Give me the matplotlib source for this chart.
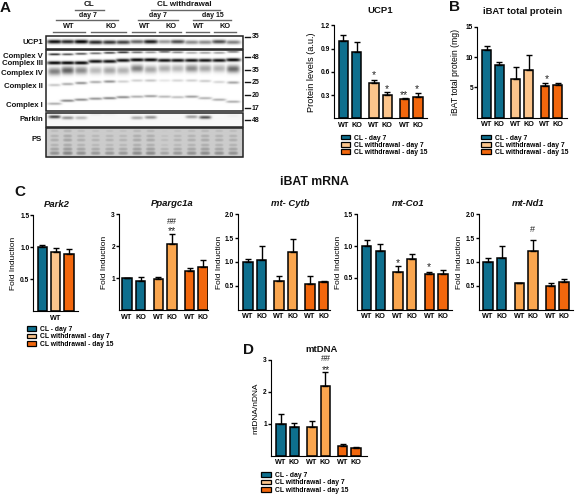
import numpy as np
import matplotlib
matplotlib.use('Agg')
import matplotlib.pyplot as plt
from matplotlib.patches import Patch, Rectangle

plt.rcParams['font.family'] = ['Liberation Sans', 'DejaVu Sans']
plt.rcParams['font.weight'] = 'bold'

W, H = 576, 494
TEAL = '#0e6f8e'
PALE = '#fcc58c'
MID = '#faa64f'
DARK = '#f2670d'

wt_ko = ['WT', 'KO', 'WT', 'KO', 'WT', 'KO']
legend_labels = ['CL - day 7', 'CL withdrawal - day 7', 'CL withdrawal - day 15']

# bar values and top of the error bars
ucp1_vals = [1.00, 0.85, 0.45, 0.30, 0.25, 0.28]
ucp1_tops = [1.08, 0.98, 0.50, 0.345, 0.265, 0.33]
total_vals = [11.1, 8.7, 6.4, 7.9, 5.2, 5.4]
total_tops = [11.8, 9.1, 8.3, 10.4, 5.8, 5.8]
park2_vals = [1.00, 0.93, 0.89]
park2_tops = [1.04, 0.98, 0.97]
pgc_vals = [1.00, 0.92, 0.98, 2.08, 1.22, 1.34]
pgc_tops = [1.01, 1.03, 1.03, 2.38, 1.32, 1.57]
cytb_vals = [1.00, 1.04, 0.61, 1.22, 0.54, 0.58]
cytb_tops = [1.07, 1.34, 0.70, 1.49, 0.71, 0.60]
co1_vals = [1.00, 0.93, 0.60, 0.80, 0.56, 0.56]
co1_tops = [1.09, 1.03, 0.69, 0.87, 0.60, 0.62]
nd1_vals = [1.00, 1.08, 0.55, 1.23, 0.50, 0.59]
nd1_tops = [1.08, 1.34, 0.57, 1.47, 0.57, 0.64]
mtdna_vals = [1.00, 0.90, 0.90, 2.20, 0.30, 0.23]
mtdna_tops = [1.30, 1.03, 1.10, 2.63, 0.38, 0.27]

# blot lanes: band darkness per lane, 0 is nothing and 1 is black
lanes_x = [54.5, 67.5, 81, 95.5, 109.5, 123, 137, 150.5, 164.5, 177.5, 191.5, 205, 219, 233]
ucp1_band = [.95, .85, 1.0, .85, .8, .75, .6, .9, .4, .7, .45, .45, .7, .5]
ucp1_y = [42.5, 42.5, 42.5, 43, 43, 43, 42.5, 42.5, 42.5, 42.5, 43, 43, 42.5, 43]
cv_band = [.85, .7, .7, .6, .75, .85, .6, .45, .65, .5, .35, .4, .4, .55]
cv_y = [55, 55, 54.5, 54, 53.5, 53, 53, 53, 52.5, 53, 53.5, 53.5, 53.5, 52.5]
ciii_band = [1, 1, 1, .95, .95, .95, 1, 1, .95, .95, .95, .95, .95, 1]
ciii_y = [63.5, 63.5, 63.5, 62, 62, 61, 60.5, 60.5, 61, 61, 61, 61, 61, 60.5]
civ_band = [.5, .62, .45, .27, .35, .3, .5, .35, .32, .28, .45, .35, .3, .58]
civ_y = [72, 71, 71, 71, 71, 71, 69, 70, 69, 69, 69, 69, 69, 69.5]
cii_band = [.22, .32, .42, .32, .42, .18, .18, .22, .1, .16, .18, .2, .16, .35]
cii_y = [85.5, 84.5, 83.5, 82.5, 82, 82, 81, 81, 81, 81, 81, 81.5, 82.5, 83]
ci_band = [.32, .48, .45, .42, .48, .45, .32, .38, .28, .25, .38, .3, .32, .32]
ci_y = [104, 101, 100, 99, 98.5, 97.5, 97, 96.5, 97, 97.5, 97, 98.5, 100, 102]
parkin_band = [.7, .4, .25, .05, .03, 0, .3, .4, 0, 0, .35, .65, 0, .03]
parkin_y = [117, 118, 118, 114.5, 114.5, 115, 118, 117.5, 117, 117, 117, 117.5, 117, 116]
ps_lanes = [.9, 1, .9, .85, .85, .85, .95, .95, .75, .85, .9, .95, .9, .9]
ps_rows_y = [131, 136, 140, 145, 149, 153]
ps_rows_dark = [.3, .34, .36, .34, .4, .48]

bx = np.arange(46, 243, 1 / 3)
by = np.arange(36, 158, 1 / 3)
grid_x, grid_y = np.meshgrid(bx, by)
blot = np.zeros_like(grid_x)


def add_band(amps, ys, sig_y, half_w=6):
    # one band drawn across the lanes, with a soft edge
    global blot
    for cx, a, cy in zip(lanes_x, amps, ys):
        along = np.exp(-((grid_x - cx) / half_w) ** 4)
        across = np.exp(-((grid_y - cy) / sig_y) ** 2)
        blot = np.maximum(blot, a * along * across)


add_band(ucp1_band, ucp1_y, 2.0, 7.5)
add_band(cv_band, cv_y, 1.0)
add_band(ciii_band, ciii_y, 1.7, 7.5)
add_band(civ_band, civ_y, 3.8, 6.5)
add_band(cii_band, cii_y, 1.3)
add_band(ci_band, ci_y, 1.2, 7)
add_band(parkin_band, parkin_y, 1.6)

# the stained membrane, lanes times rows
ps_mask = (grid_y > 128) & (grid_y < 157.5)
ps = np.full_like(blot, 0.2)
for cx, a in zip(lanes_x, ps_lanes):
    along = np.exp(-((grid_x - cx) / 6) ** 4)
    for ry, d in zip(ps_rows_y, ps_rows_dark):
        ps = np.maximum(ps, a * d * along * np.exp(-((grid_y - ry) / 2.8) ** 2))
blot[ps_mask] = ps[ps_mask]
parkin_mask = (grid_y > 113) & (grid_y < 127)
blot[parkin_mask] += 0.03

fig = plt.figure(figsize=(W / 100, H / 100), dpi=100)

# overlay in image pixels, holds the blot and loose text
over = fig.add_axes([0, 0, 1, 1])
over.axis('off')
over.imshow(1 - blot, cmap='gray', vmin=0, vmax=1, extent=(46, 243, 158, 36),
            aspect='auto', interpolation='bilinear', zorder=1)
over.set_xlim(0, W)
over.set_ylim(H, 0)
for y0, y1 in [(36, 49), (50, 111), (113, 127), (128, 157)]:
    over.add_patch(Rectangle((46, y0), 197, y1 - y0, fill=False, ec='#222222', lw=1.1, zorder=2))


def label(x, y, s, size=5.6, **kw):
    kw.setdefault('ha', 'center')
    kw.setdefault('va', 'center')
    over.text(x, y, s, fontsize=size, fontweight='bold', color='#111111', zorder=3, **kw)


for s, y in [('UCP1', 43), ('Complex V', 56), ('Complex III', 63.5), ('Complex IV', 73.5),
             ('Complex II', 86), ('Complex I', 105), ('Parkin', 119.5)]:
    label(43, y, s, ha='right')
label(42, 139.5, 'PS', ha='right')

for s, y in [('35', 37), ('48', 57.5), ('35', 70), ('25', 82.5), ('20', 95.5), ('17', 108.5), ('48', 120.5)]:
    over.plot([245, 250], [y, y], color='#111111', lw=1, zorder=3)
    label(252, y, s, size=5, ha='left')

# group headings above the blot
for s, x, y, size in [('CL', 89.5, 5, 5.8), ('CL withdrawal', 184, 5, 5.8), ('day 7', 88, 15.5, 5),
                      ('day 7', 158, 15.5, 5), ('day 15', 213, 15.5, 5), ('WT', 69, 26, 5.3), ('KO', 111, 26, 5.3),
                      ('WT', 144.5, 26, 5.3), ('KO', 171, 26, 5.3), ('WT', 198.5, 26, 5.3), ('KO', 225, 26, 5.3)]:
    label(x, y, s, size=size)
for x0, x1, y in [(75, 104, 10.5), (151, 220, 10), (56, 118, 20.5), (138, 178, 20.5), (193, 231, 20.5),
                  (53, 85, 32), (91, 126, 32), (132, 155, 32), (159, 181, 32), (186, 209, 32), (214, 236, 32)]:
    over.plot([x0, x1], [y, y], color='#666666', lw=1, zorder=3)

# panel letters and the shared heading
for s, x, y in [('A', 5, 8), ('B', 455, 7), ('C', 20, 192), ('D', 249, 350)]:
    label(x, y, s, size=11)
label(314, 182, 'iBAT mRNA', size=8.8)

labfont = {'Protein levels (a.u.)': 6.6, 'iBAT total protein (mg)': 6.2, 'Fold Induction': 6.0, 'mtDNA/nDNA': 6.0}


def panel(left, right, top, base, c0, pitch, ymax, yticks, ylab, vals, tops, colors, title,
          xlabels=wt_ko, italic=False, tx=None, ty=None, labx=None):
    ax = fig.add_axes([left / W, 1 - base / H, (right - left) / W, (base - top) / H])
    ax.patch.set_alpha(0)
    group_gap = 2.3
    xs = [i // 2 * group_gap + i % 2 for i in range(len(vals))]
    if len(vals) == 3:
        xs = [0, 1, 2]
    errs = [t - v for v, t in zip(vals, tops)]
    ax.bar(xs, vals, width=0.7, color=colors, edgecolor='black', linewidth=1.1)
    ax.errorbar(xs, vals, yerr=[[0] * len(errs), errs], fmt='none', ecolor='black',
                elinewidth=1, capsize=2, capthick=1)
    ax.set_xlim((left - c0) / pitch, (right - c0) / pitch)
    ax.set_ylim(0, ymax)
    ax.set_yticks(yticks)
    ax.set_yticklabels(yticks)
    ax.spines['top'].set_visible(False)
    ax.spines['right'].set_visible(False)
    ax.tick_params(axis='y', length=2, width=1, pad=0.8, labelsize=4.8)
    ax.set_xticks(xs if len(xlabels) == len(xs) else [xs[1]])
    ax.set_xticklabels(xlabels)
    ax.tick_params(axis='x', length=0, pad=2.5, labelsize=5.2)
    ax.set_ylabel(ylab, fontsize=labfont[ylab], labelpad=0, va='center')
    ax.yaxis.set_label_coords((labx - left) / (right - left), 0.5)
    over.text(tx, ty, title, ha='center', va='center', fontsize=6.8, fontweight='bold',
              fontstyle='italic' if italic else 'normal', color='#111111')
    return ax


three = [TEAL, TEAL, PALE, PALE, DARK, DARK]
three_mid = [TEAL, TEAL, MID, MID, DARK, DARK]

panel(333.7, 427, 25.3, 118.3, 343.3, 13.33, 1.2, [0.3, 0.6, 0.9, 1.2], 'Protein levels (a.u.)',
      ucp1_vals, ucp1_tops, three, 'UCP1', tx=380, ty=10.5, labx=311.5)
panel(477, 567, 26.7, 117.7, 486.7, 12.67, 15, [5, 10, 15], 'iBAT total protein (mg)',
      total_vals, total_tops, three, 'iBAT total protein', tx=523, ty=11.5, labx=455.5)
panel(33.3, 78, 215, 311.3, 42.3, 13.3, 1.5, [0.5, 1.0, 1.5], 'Fold Induction',
      park2_vals, park2_tops, [TEAL, PALE, DARK], 'Park2', xlabels=['WT'], italic=True, tx=57, ty=204, labx=14)
panel(119, 208, 214.3, 310.3, 127, 13.6, 3, [1, 2, 3], 'Fold Induction',
      pgc_vals, pgc_tops, three_mid, 'Ppargc1a', italic=True, tx=172.5, ty=203, labx=104.5)
panel(238, 330, 214.3, 309.7, 248, 13.5, 2.0, [0.5, 1.0, 1.5, 2.0], 'Fold Induction',
      cytb_vals, cytb_tops, three_mid, 'mt- Cytb', italic=True, tx=290, ty=203, labx=219.5)
panel(357, 452, 214.3, 309.7, 366.7, 13.6, 1.5, [0.5, 1.0, 1.5], 'Fold Induction',
      co1_vals, co1_tops, three_mid, 'mt-Co1', italic=True, tx=408.5, ty=203, labx=338.5)
panel(478.7, 573, 214.3, 309.7, 488, 13.6, 2.0, [0.5, 1.0, 1.5, 2.0], 'Fold Induction',
      nd1_vals, nd1_tops, three_mid, 'mt-Nd1', italic=True, tx=528, ty=203, labx=459.5)
panel(270.7, 366.7, 360, 455.7, 281, 13.4, 3, [1, 2, 3], 'mtDNA/nDNA',
      mtdna_vals, mtdna_tops, three_mid, 'mtDNA', tx=321.5, ty=349.5, labx=256)

# significance marks, stars sit high in their text box so they get pushed down
for x, y, s in [(373.7, 73, '*'), (387, 87, '*'), (404, 92.7, '**'), (417, 87, '*'), (546.5, 76.7, '*'),
                (172, 229, '**'), (397.7, 260.7, '*'), (428.7, 265, '*'), (325.5, 367.3, '**')]:
    over.text(x, y + 2.5, s, ha='center', va='center', fontsize=7.5, color='#222222', fontweight='normal', zorder=5)
for x, y, s in [(172.3, 221, '##'), (532.3, 229, '#'), (326, 358, '##')]:
    over.text(x, y, s, ha='center', va='center', fontsize=6.5, color='#222222', fontweight='normal', zorder=5)

for lx, ly in [(340.5, 134.5), (481, 134.5), (26.5, 326), (261, 472)]:
    swatches = [Patch(facecolor=c, edgecolor='black', linewidth=0.9) for c in (TEAL, PALE, DARK)]
    fig.legend(swatches, legend_labels, loc='upper left', bbox_to_anchor=(lx / W, 1 - ly / H),
               frameon=False, fontsize=4.9, borderpad=0, borderaxespad=0, labelspacing=0.05,
               handlelength=1.45, handleheight=0.7, handletextpad=0.6)

fig.savefig('out.png', dpi=100, facecolor='white')
